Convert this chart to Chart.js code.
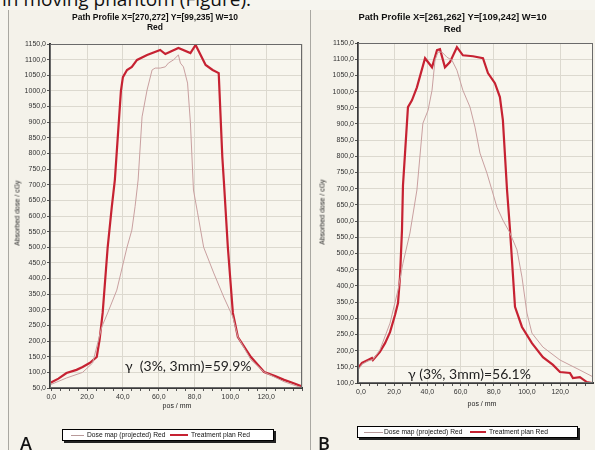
<!DOCTYPE html>
<html>
<head>
<meta charset="utf-8">
<script src="https://cdn.jsdelivr.net/npm/chart.js@4.4.1/dist/chart.umd.min.js"></script>
<style>
  html, body { margin:0; padding:0; }
  body { width:595px; height:450px; position:relative; overflow:hidden; background:#f6f5ef; font-family:"Liberation Sans", Arial, sans-serif; }
  .abs { position:absolute; white-space:nowrap; }
  .panel { position:absolute; top:10px; height:450px; background:#f4f2ea; }
  .title { position:absolute; text-align:center; font-weight:bold; color:#111; }
  .ytitle { position:absolute; transform:translate(-50%,-50%) rotate(-90deg); font-size:7px; color:#222; white-space:nowrap; }
  .xtitle { position:absolute; transform:translate(-50%,-50%); font-size:7px; color:#222; white-space:nowrap; }
  .legend { position:absolute; background:#fff; border:1px solid #000; box-shadow:2px 2px 0 #222; height:10px; font-size:6.7px; color:#111; }
  .legend span { position:absolute; top:0; line-height:10px; white-space:nowrap; }
  .legend i { position:absolute; display:block; }
  .gamma { position:absolute; font-family:Lato, "Open Sans", sans-serif; font-size:14px; color:#222; white-space:pre; transform:translateY(-50%); }
  .letter { position:absolute; font-family:"Open Sans", sans-serif; font-weight:600; font-size:18px; line-height:18px; color:#111; }
  canvas { position:absolute; top:0; }
</style>
</head>
<body>
<div class="abs" style="left:2px; top:-10px; font-family:'Open Sans',sans-serif; font-size:19px; line-height:19px; color:#111;">in moving phantom (Figure).</div>

<div class="panel" style="left:8px; width:301px; border-left:1px solid #a9a8a2; border-right:1px solid #a9a8a2;"></div>
<div class="panel" style="left:311px; width:284px;"></div>

<canvas id="chartA" width="310" height="450" style="left:0px;"></canvas>
<canvas id="chartB" width="285" height="450" style="left:310px;"></canvas>

<div class="title" style="left:0; width:310px; top:12px; font-size:8.5px; line-height:10px;">Path Profile X=[270,272] Y=[99,235] W=10<br>Red</div>
<div class="title" style="left:310px; width:285px; top:11px; font-size:9.4px; line-height:12px;">Path Profile X=[261,262] Y=[109,242] W=10<br>Red</div>

<div class="ytitle" style="left:17px; top:213px;">Absorbed dose / cGy</div>
<div class="ytitle" style="left:322px; top:212px;">Absorbed dose / cGy</div>
<div class="xtitle" style="left:177px; top:405px;">pos / mm</div>
<div class="xtitle" style="left:482px; top:403px;">pos / mm</div>

<div class="legend" style="left:62px; top:429px; width:210px;">
  <i style="left:8px; top:5px; width:13px; height:1px; background:#b89a9a;"></i>
  <span style="left:24px;">Dose map (projected) Red</span>
  <i style="left:107px; top:4px; width:18px; height:2px; background:#c62232;"></i>
  <span style="left:128px;">Treatment plan Red</span>
</div>
<div class="legend" style="left:357px; top:426px; width:219px;">
  <i style="left:6px; top:5px; width:19px; height:1px; background:#b89a9a;"></i>
  <span style="left:26px;">Dose map (projected) Red</span>
  <i style="left:112px; top:4px; width:16px; height:2px; background:#c62232;"></i>
  <span style="left:131px;">Treatment plan Red</span>
</div>

<div class="gamma" style="left:125px; top:365px;">γ  (3%, 3mm)=59.9%</div>
<div class="gamma" style="left:408px; top:373px;">γ (3%, 3mm)=56.1%</div>

<div class="letter" style="left:20px; top:434px;">A</div>
<div class="letter" style="left:318px; top:434px;">B</div>

<script>
// ---- Panel A data (pos / mm, dose / cGy) ----
const aMapX  = [-0.7, 8.5, 17.5, 23.1, 28.2, 31.5, 36.6, 42.3, 45, 46.8, 48.5, 50.7, 53.5, 56.3, 58, 60.8, 63.7, 65.4, 68.2, 71, 72.1, 73.8, 76.1, 77.7, 79.4, 81.7, 85.1, 90.7, 96.3, 101.4, 104.2, 111.5, 118.9, 130, 138.6, 140];
const aMapY  = [60, 82, 100, 130, 245, 290, 363, 500, 555, 630, 715, 917, 1003, 1067, 1073, 1073, 1077, 1089, 1099, 1115, 1089, 1077, 1025, 898, 683, 610, 500, 418, 341, 277, 213, 140, 101, 70, 53, 52];
const aPlanX = [-0.7, 4, 8.5, 14.1, 17.5, 21.4, 25.4, 27, 28.7, 31.5, 33.8, 35.5, 38.9, 40, 42.3, 45, 47.9, 53.5, 60.8, 63.7, 71, 77.7, 80.6, 86.2, 90.1, 93.5, 95.5, 96.5, 98.6, 101.4, 104.2, 111.5, 118.9, 125, 130, 135, 140];
const aPlanY = [66, 80, 98, 108, 117, 130, 149, 205, 290, 500, 629, 715, 1000, 1044, 1067, 1077, 1099, 1115, 1131, 1118, 1137, 1121, 1147, 1083, 1067, 1057, 790, 700, 500, 290, 213, 149, 101, 88, 76, 66, 55];

// ---- Panel B data ----
const bMapX  = [-1.8, 0.6, 4.2, 7.2, 11.4, 17.5, 22.3, 25.3, 29.5, 33.7, 37.3, 40.4, 42.8, 44.6, 46.4, 48.8, 51.8, 54.8, 57.8, 61.4, 65.7, 68.7, 71.7, 75.9, 78.9, 81.9, 85.5, 89.8, 94, 97, 100, 103, 109.6, 119.9, 131.9, 139.8];
const bMapY  = [140, 158, 168, 172, 202, 285, 387, 470, 563, 696, 902, 942, 1004, 1097, 1122, 1122, 1106, 1097, 1066, 1004, 952, 890, 810, 748, 696, 643, 603, 563, 511, 427, 316, 254, 211, 171, 140, 119];
const bPlanX = [-1.8, 0.6, 4.2, 6.6, 7.2, 11.4, 14.5, 17.5, 20.5, 22.3, 23.5, 24.7, 25.3, 28.3, 30.7, 33.7, 38.6, 42.8, 45.8, 47.6, 50.6, 53.6, 57.8, 61.4, 67.5, 73.5, 76.5, 80.7, 83.7, 85.5, 88, 89.8, 92.8, 97, 103, 109.6, 115.7, 119.9, 125.9, 127.7, 131.9, 136.1, 139.2, 139.8];
const bPlanY = [146, 162, 171, 177, 171, 196, 223, 257, 310, 347, 427, 572, 710, 952, 973, 1013, 1103, 1075, 1128, 1131, 1075, 1091, 1137, 1112, 1109, 1103, 1057, 1026, 983, 912, 696, 572, 335, 273, 223, 180, 156, 134, 131, 115, 118, 103, 100, 100];

// ---- tick labels ----
const xTickValues = [0, 20, 40, 60, 80, 100, 120];

const fmt = v => v.toFixed(1).replace('.', ',');
const pts = (xs, ys) => xs.map((x, i) => ({x, y: ys[i]}));

const frame = {
  id: 'frame',
  beforeDraw(chart) {
    const {ctx, chartArea: a} = chart;
    ctx.save();
    ctx.fillStyle = '#f8f6ee';
    ctx.fillRect(a.left, a.top, a.right - a.left, a.bottom - a.top);
    ctx.restore();
  },
  afterDraw(chart) {
    const {ctx, chartArea: a} = chart;
    ctx.save();
    ctx.strokeStyle = '#6a6a6a';
    ctx.lineWidth = 1;
    ctx.strokeRect(a.left + 0.5, a.top + 0.5, a.right - a.left - 1, a.bottom - a.top - 1);
    ctx.restore();
  }
};

function makeChart(id, mapX, mapY, planX, planY, xmin, xmax, ymin, ymax, pad, yWidth, xHeight) {
  new Chart(document.getElementById(id), {
    type: 'line',
    data: {
      datasets: [
        { label: 'Dose map (projected) Red', data: pts(mapX, mapY), borderColor: '#c9a0a0', borderWidth: 1, pointRadius: 0, tension: 0, fill: false },
        { label: 'Treatment plan Red', data: pts(planX, planY), borderColor: '#c62232', borderWidth: 2.2, pointRadius: 0, tension: 0, fill: false }
      ]
    },
    options: {
      responsive: false,
      devicePixelRatio: 1,
      animation: false,
      layout: { padding: pad },
      plugins: { legend: { display: false }, title: { display: false }, tooltip: { enabled: false } },
      scales: {
        x: {
          type: 'linear', min: xmin, max: xmax,
          afterBuildTicks: s => {
            const t = [];
            for (let v = 0; v <= xmax + 1e-6; v += 5) t.push({ value: v });
            s.ticks = t;
          },
          afterFit: s => { s.height = xHeight; },
          ticks: {
            autoSkip: false, maxRotation: 0, padding: 2,
            font: { family: 'Liberation Sans', size: 7 }, color: '#333',
            callback: v => (xTickValues.includes(v) ? fmt(v) : '')
          },
          grid: {
            color: c => (c.tick && c.tick.value % 20 === 0 && c.tick.value !== 0 ? '#dcd9cf' : 'rgba(0,0,0,0)'),
            tickColor: '#555', tickLength: 3, lineWidth: 1
          },
          border: { color: '#3a3a3a', width: 2 }
        },
        y: {
          min: ymin, max: ymax,
          afterFit: s => { s.width = yWidth; },
          ticks: {
            stepSize: 50, autoSkip: false, padding: 1,
            font: { family: 'Liberation Sans', size: 7 }, color: '#333',
            callback: v => fmt(v)
          },
          grid: { color: '#dcd9cf', tickColor: '#555', tickLength: 3, lineWidth: 1 },
          border: { color: '#3a3a3a', width: 2 }
        }
      }
    },
    plugins: [frame]
  });
}

makeChart('chartA', aMapX, aMapY, aPlanX, aPlanY, -0.7, 140, 50, 1150, { top: 44, right: 8, left: 0, bottom: 0 }, 50, 62);
makeChart('chartB', bMapX, bMapY, bPlanX, bPlanY, -1.8, 139.8, 100, 1150, { top: 43, right: 2, left: 0, bottom: 0 }, 48, 67);
</script>
</body>
</html>
